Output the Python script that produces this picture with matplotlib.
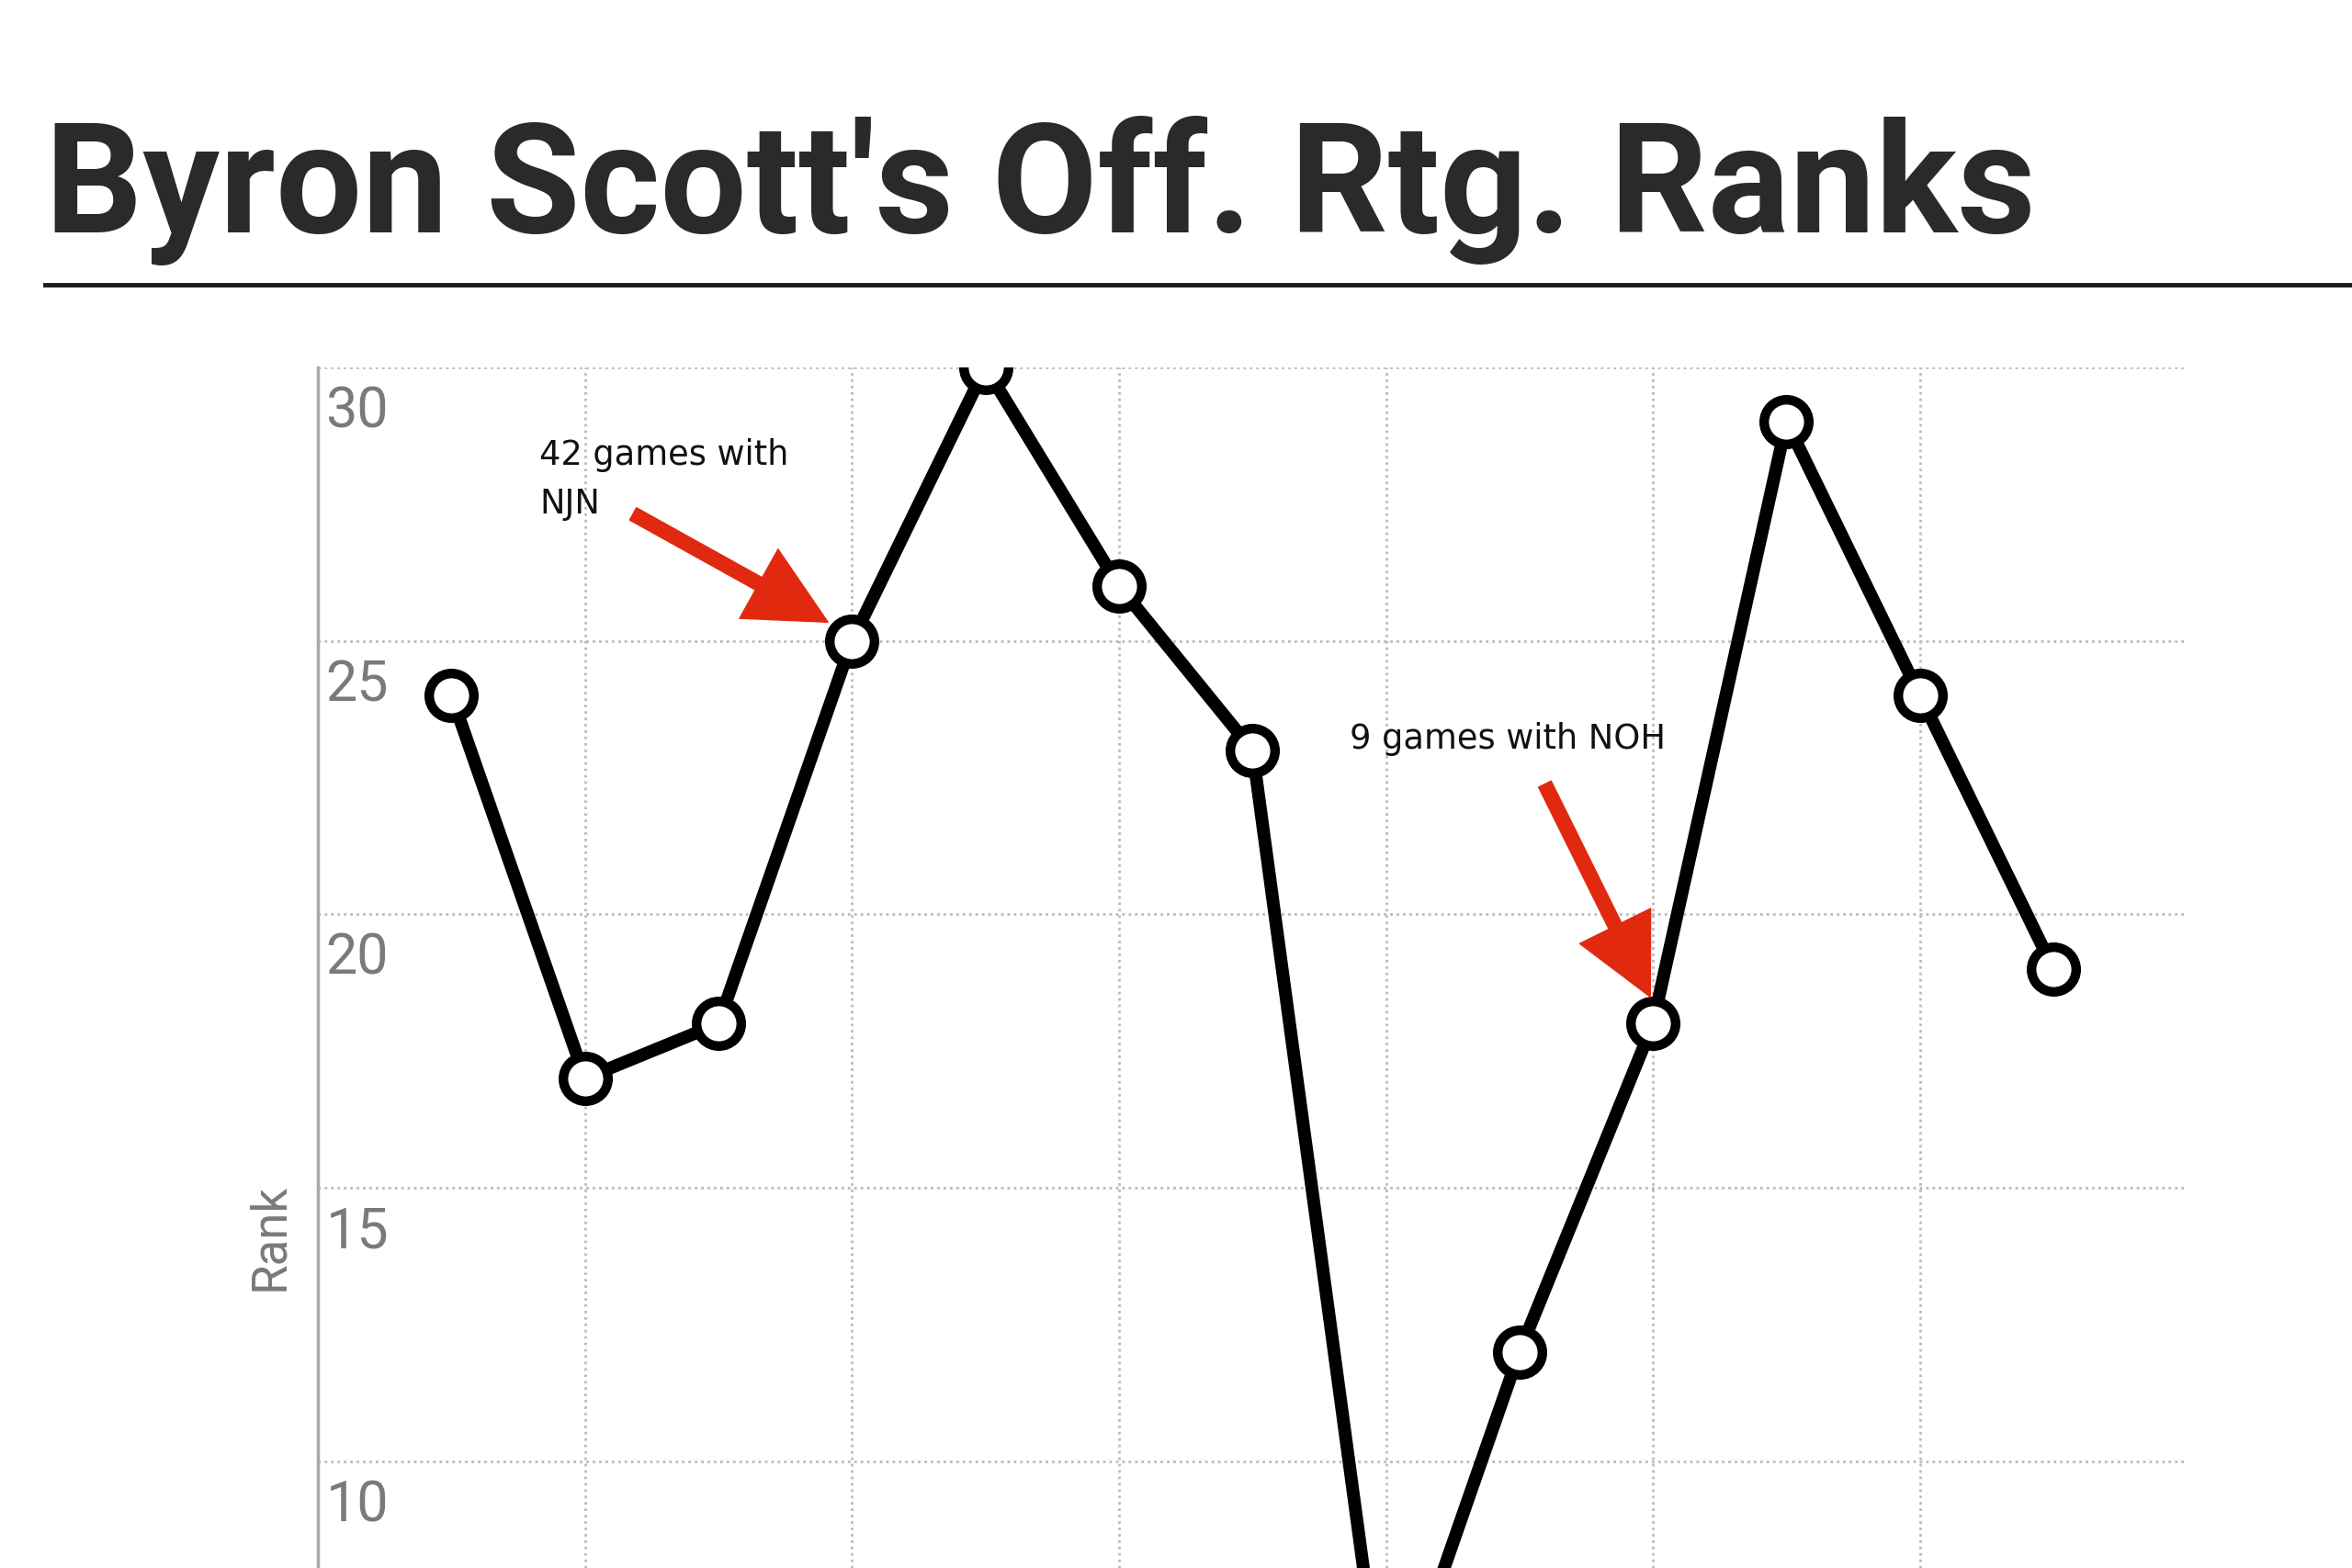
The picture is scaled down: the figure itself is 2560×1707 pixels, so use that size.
import numpy as np
import matplotlib
matplotlib.use('Agg')
import matplotlib.pyplot as plt

# Data: Off. Rtg. rank per season (13 seasons)
seasons = ['2000-01', '2001-02', '2002-03', '2003-04', '2004-05', '2005-06', '2006-07',
           '2007-08', '2008-09', '2009-10', '2010-11', '2011-12', '2012-13']
ranks = [24, 17, 18, 25, 30, 26, 23, 5, 12, 18, 29, 24, 19]
y_ticks = [10, 15, 20, 25, 30]
title = "Byron Scott's Off. Rtg. Ranks"

grey = '#7a7a7a'
narrow = ['Liberation Sans Narrow', 'Roboto', 'DejaVu Sans']

fig = plt.figure(figsize=(25.6, 17.07), dpi=100)
ax = fig.add_axes([212/1568, 0.0, (1458-212)/1568, 1 - 245/1046])

x = np.arange(len(ranks))
ax.plot(x, ranks, color='black', lw=10, marker='o', ms=35, mfc='white',
        mec='black', mew=7.5, solid_joinstyle='miter', zorder=3)

ax.set_xlim(-1, len(ranks))
ax.set_ylim(8.05, 30)
ax.set_xticks(x[1::2])
ax.set_xticklabels([])
ax.set_yticks(y_ticks)
ax.set_yticklabels([])
ax.tick_params(length=0)
ax.grid(True, color='#bbbbbb', linestyle=(0, (1, 1.5)), linewidth=2)

for s in ['top', 'right', 'bottom']:
    ax.spines[s].set_visible(False)
ax.spines['left'].set_color('#aaaaaa')
ax.spines['left'].set_linewidth(2.5)

# y labels sit inside the axes, just below each gridline
for t in y_ticks:
    ax.annotate(str(t), xy=(0, t), xycoords=('axes fraction', 'data'),
                xytext=(6, -14), textcoords='offset points', ha='left', va='top',
                fontsize=44, color=grey, family=narrow)

fig.text(180/1568, 1 - 825/1046, 'Rank', rotation=90, ha='center', va='center',
         fontsize=38, color=grey, family=narrow)

# title and rule
fig.text(30/1568, 1 - 155/1046, title, ha='left', va='baseline', fontsize=120,
         fontweight='bold', color='#2a2a2a', family=['Roboto', 'DejaVu Sans'])
fig.add_artist(plt.Line2D([30/1568, 1.0], [1 - 190/1046] * 2, color='#1a1a1a', lw=3.5,
                          transform=fig.transFigure))

# annotations
red = '#e0290f'
arrow = dict(width=11, headwidth=62, headlength=62, color=red, shrink=0)
ax.text(0.66, 27.95, '42 games with\nNJN', ha='left', va='center', fontsize=26.5,
        linespacing=1.55, color='#111111', family=['DejaVu Sans'])
ax.annotate('', xy=(2.82, 25.34), xytext=(1.36, 27.32), arrowprops=arrow, zorder=4)

ax.text(6.73, 23.2, '9 games with NOH', ha='left', va='center', fontsize=26.5,
        color='#111111', family=['DejaVu Sans'])
ax.annotate('', xy=(8.98, 18.49), xytext=(8.19, 22.38), arrowprops=arrow, zorder=4)

fig.savefig('out.png', dpi=100, facecolor='white')
